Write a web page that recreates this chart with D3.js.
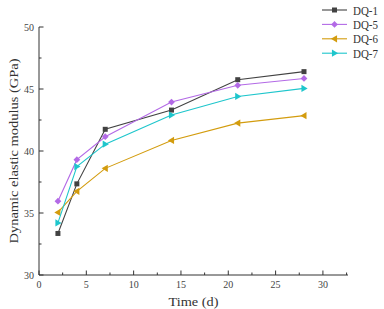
<!DOCTYPE html>
<html>
<head>
<meta charset="utf-8">
<script src="https://cdn.jsdelivr.net/npm/d3@7"></script>
<style>
  html, body { margin: 0; padding: 0; background: #fff; }
  svg { display: block; }
</style>
</head>
<body>
<div id="chart"></div>
<script>
// curing time (days) and dynamic elastic modulus per mix (GPa)
const days = [2, 4, 7, 14, 21, 28];
const dq1 = [33.35, 37.35, 41.75, 43.3, 45.75, 46.4];
const dq5 = [35.95, 39.3, 41.15, 43.95, 45.3, 45.85];
const dq6 = [35.05, 36.75, 38.6, 40.85, 42.25, 42.85];
const dq7 = [34.2, 38.75, 40.55, 42.9, 44.4, 45.05];

const seriesNames = ["DQ-1", "DQ-5", "DQ-6", "DQ-7"];
const seriesValues = [dq1, dq5, dq6, dq7];
const colors = ["#424242", "#b36ae6", "#d39c0e", "#1ec6cc"];
const symbols = ["square", "diamond", "triLeft", "triRight"];

const xTicks = [0, 5, 10, 15, 20, 25, 30];
const yTicks = [30, 35, 40, 45, 50];

const W = 384, H = 309;
const margin = { top: 27, right: 36, bottom: 34, left: 39 };
const width = W - margin.left - margin.right;
const height = H - margin.top - margin.bottom;

const svg = d3.select("#chart").append("svg")
    .attr("width", W)
    .attr("height", H);

const g = svg.append("g")
    .attr("transform", `translate(${margin.left},${margin.top})`);

const x = d3.scaleLinear().domain([0, 32.65]).range([0, width]);
const y = d3.scaleLinear().domain([30, 50]).range([height, 0]);

const axisColor = "#333";
const tickFont = "'Liberation Serif', 'Times New Roman', serif";
const labelFont = "'Liberation Serif', 'Times New Roman', serif";

// --- axes (ticks point inward) ---
const xAxis = g.append("g").attr("transform", `translate(0,${height})`);
xAxis.append("line")
    .attr("x1", 0).attr("x2", width)
    .attr("stroke", axisColor).attr("stroke-width", 1);
xAxis.selectAll(".minor")
    .data(d3.range(2.5, 32.6, 5))
    .enter().append("line")
    .attr("x1", d => x(d)).attr("x2", d => x(d))
    .attr("y1", 0).attr("y2", -2.5)
    .attr("stroke", axisColor);
xAxis.selectAll(".major")
    .data(xTicks)
    .enter().append("line")
    .attr("x1", d => x(d)).attr("x2", d => x(d))
    .attr("y1", 0).attr("y2", -4.5)
    .attr("stroke", axisColor);
xAxis.selectAll("text")
    .data(xTicks)
    .enter().append("text")
    .attr("x", d => x(d))
    .attr("y", 13)
    .attr("text-anchor", "middle")
    .style("font-family", tickFont)
    .style("font-size", "10px")
    .style("fill", "#444")
    .text(d => d);

const yAxis = g.append("g");
yAxis.append("line")
    .attr("y1", 0).attr("y2", height)
    .attr("stroke", axisColor).attr("stroke-width", 1);
yAxis.selectAll(".minor")
    .data(d3.range(32.5, 50, 5))
    .enter().append("line")
    .attr("y1", d => y(d)).attr("y2", d => y(d))
    .attr("x1", 0).attr("x2", 2.5)
    .attr("stroke", axisColor);
yAxis.selectAll(".major")
    .data(yTicks)
    .enter().append("line")
    .attr("y1", d => y(d)).attr("y2", d => y(d))
    .attr("x1", 0).attr("x2", 4.5)
    .attr("stroke", axisColor);
yAxis.selectAll("text")
    .data(yTicks)
    .enter().append("text")
    .attr("x", -5)
    .attr("y", d => y(d))
    .attr("dy", "0.35em")
    .attr("text-anchor", "end")
    .style("font-family", tickFont)
    .style("font-size", "10px")
    .style("fill", "#444")
    .text(d => d);

// axis titles (wide, monospaced look of the original)
g.append("text")
    .attr("x", width / 2)
    .attr("y", height + 31)
    .attr("text-anchor", "middle")
    .attr("textLength", 50)
    .attr("lengthAdjust", "spacingAndGlyphs")
    .style("font-family", labelFont)
    .style("font-size", "12.5px")
    .style("fill", "#333")
    .text("Time (d)");

g.append("text")
    .attr("transform", `translate(${-21},${height / 2}) rotate(-90)`)
    .attr("text-anchor", "middle")
    .attr("textLength", 185)
    .attr("lengthAdjust", "spacingAndGlyphs")
    .style("font-family", labelFont)
    .style("font-size", "12.5px")
    .style("fill", "#333")
    .text("Dynamic elastic modulus (GPa)");

// --- marker shapes ---
function markerPath(type, s) {
    if (type === "square") return `M${-s},${-s}h${2 * s}v${2 * s}h${-2 * s}Z`;
    if (type === "diamond") { const r = s * 1.35; return `M0,${-r}L${r},0L0,${r}L${-r},0Z`; }
    if (type === "triLeft") { const r = s * 1.45; return `M${-r},0L${r * 0.7},${-r}L${r * 0.7},${r}Z`; }
    const r = s * 1.45;
    return `M${r},0L${-r * 0.7},${-r}L${-r * 0.7},${r}Z`;
}

const line = d3.line()
    .x(d => x(d.day))
    .y(d => y(d.value));

seriesNames.forEach((name, i) => {
    const pts = days.map((day, j) => ({ day, value: seriesValues[i][j] }));
    const s = g.append("g");
    s.append("path")
        .datum(pts)
        .attr("d", line)
        .attr("fill", "none")
        .attr("stroke", colors[i])
        .attr("stroke-width", 1.1);
    s.selectAll("path.mk")
        .data(pts)
        .enter().append("path")
        .attr("class", "mk")
        .attr("transform", d => `translate(${x(d.day)},${y(d.value)})`)
        .attr("d", markerPath(symbols[i], 2.5))
        .attr("fill", colors[i]);
});

// --- legend (no frame) ---
const legend = svg.append("g").attr("transform", "translate(322,10)");
seriesNames.forEach((name, i) => {
    const row = legend.append("g").attr("transform", `translate(0,${i * 14.4})`);
    row.append("line")
        .attr("x1", 0).attr("x2", 25)
        .attr("stroke", colors[i]).attr("stroke-width", 1.1);
    row.append("path")
        .attr("transform", "translate(12.5,0)")
        .attr("d", markerPath(symbols[i], 2.5))
        .attr("fill", colors[i]);
    row.append("text")
        .attr("x", 31)
        .attr("dy", "0.36em")
        .attr("textLength", 25)
        .attr("lengthAdjust", "spacingAndGlyphs")
        .style("font-family", labelFont)
        .style("font-size", "12.5px")
        .style("fill", "#333")
        .text(name);
});
</script>
</body>
</html>
